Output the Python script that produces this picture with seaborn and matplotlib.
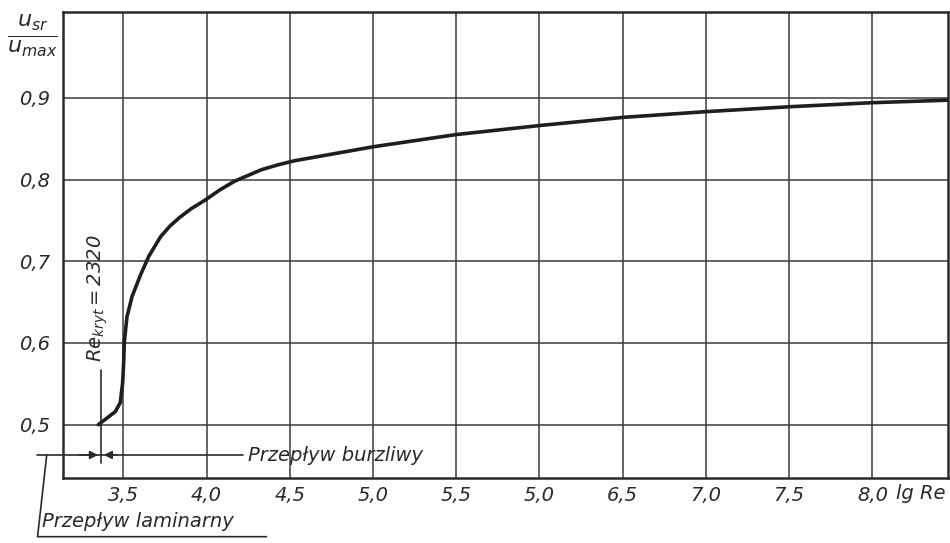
import numpy as np
import pandas as pd
import seaborn as sns
import matplotlib.pyplot as plt

# values (lg Re vs u_sr/u_max)
lg_re = [3.35, 3.401, 3.452, 3.482, 3.496, 3.502, 3.506, 3.522, 3.553, 3.603,
         3.653, 3.724, 3.78, 3.835, 3.906, 3.993, 4.078, 4.169, 4.25, 4.33, 4.43,
         4.53, 5.0, 5.5, 6.0, 6.5, 7.0, 7.5, 8.0, 8.45]
u_ratio = [0.500, 0.508, 0.516, 0.527, 0.551, 0.575, 0.601, 0.632, 0.657, 0.683,
           0.706, 0.730, 0.743, 0.753, 0.764, 0.775, 0.787, 0.798, 0.805, 0.812,
           0.818, 0.823, 0.840, 0.855, 0.866, 0.876, 0.883, 0.889, 0.894, 0.897]
x_ticks = [3.5, 4.0, 4.5, 5.0, 5.5, 6.0, 6.5, 7.0, 7.5, 8.0]
x_labels = ["3,5", "4,0", "4,5", "5,0", "5,5", "5,0", "6,5", "7,0", "7,5", "8,0"]
y_ticks = [0.5, 0.6, 0.7, 0.8, 0.9]
y_labels = ["0,5", "0,6", "0,7", "0,8", "0,9"]
re_kryt = np.log10(2320)

df = pd.DataFrame({"lg_re": lg_re, "u": u_ratio})

sns.set_theme(style="white")
plt.rcParams["font.family"] = ["DejaVu Sans"]
plt.rcParams["font.style"] = "italic"
plt.rcParams["mathtext.fontset"] = "dejavusans"
plt.rcParams["mathtext.default"] = "it"

ink = "#2a2a2a"
fig = plt.figure(figsize=(9.5, 5.43), dpi=100)
ax = fig.add_axes([0.066, 0.12, 0.932, 0.858])

sns.lineplot(data=df, x="lg_re", y="u", sort=False, estimator=None,
             color="#1e1e1e", linewidth=2.6, ax=ax, zorder=5)

ax.set_xlim(3.136, 8.455)
ax.set_ylim(0.435, 1.005)
ax.set_xticks(x_ticks)
ax.set_xticklabels(x_labels, fontsize=14, color=ink)
ax.set_yticks(y_ticks)
ax.set_yticklabels(y_labels, fontsize=14, color=ink)
ax.tick_params(axis="x", length=0, pad=6)
ax.tick_params(axis="y", length=7, width=1.3, color=ink, direction="out", pad=2)
ax.grid(True, color="#3a3a3a", linewidth=1.1)
ax.set_xlabel("")
ax.set_ylabel("")
for s in ax.spines.values():
    s.set_color(ink)
    s.set_linewidth(1.8)

# axis titles
fig.text(0.034, 0.935, r"$\frac{u_{sr}}{u_{max}}$", fontsize=23, color=ink,
         ha="center", va="center")
ax.text(8.44, 0.4275, "lg Re", fontsize=14, color=ink, ha="right", va="top")

# critical Reynolds number marker
ax.text(re_kryt - 0.02, 0.655, r"$Re_{kryt}=2320$", rotation=90, fontsize=14,
        color=ink, ha="center", va="center")
ax.plot([re_kryt, re_kryt], [0.567, 0.453], color=ink, linewidth=1.2, clip_on=False)

# flow-regime dimension line
ax.plot([2.98, 4.22], [0.463, 0.463], color=ink, linewidth=1.2, clip_on=False)
ax.annotate("", xy=(re_kryt, 0.463), xytext=(3.22, 0.463),
            arrowprops=dict(arrowstyle="-|>", color=ink, lw=1.2, mutation_scale=12))
ax.annotate("", xy=(re_kryt, 0.463), xytext=(3.48, 0.463),
            arrowprops=dict(arrowstyle="-|>", color=ink, lw=1.2, mutation_scale=12))
ax.text(4.25, 0.462, "Przepływ burzliwy", fontsize=14, color=ink,
        ha="left", va="center")

# laminar bracket below the axis
ax.plot([3.04, 2.985, 2.985, 4.36], [0.463, 0.363, 0.363, 0.363], color=ink,
        linewidth=1.2, clip_on=False)
ax.text(3.01, 0.381, "Przepływ laminarny", fontsize=14, color=ink,
        ha="left", va="center")

fig.savefig("out.png", dpi=100)
